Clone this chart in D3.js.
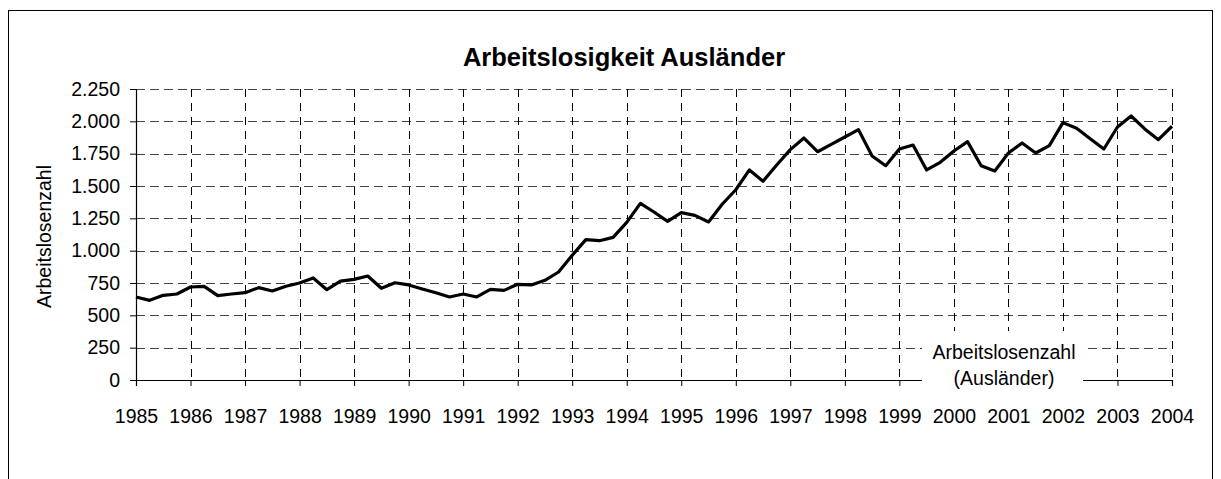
<!DOCTYPE html>
<html>
<head>
<meta charset="utf-8">
<script src="https://cdn.jsdelivr.net/npm/d3@7"></script>
<style>
  body { margin: 0; background: #fff; }
  svg { font-family: "Liberation Sans", Arial, sans-serif; }
</style>
</head>
<body>
<svg width="1221" height="479"></svg>
<script>
// Quarterly unemployment figures (foreigners), 1985 Q1 .. 2004 Q1
const firstYear = 1985;
const values = [
  642, 616, 655, 665, 719, 724, 652, 665, 675, 714, 688, 725,
  750, 789, 698, 765, 778, 804, 709, 752, 735, 704, 675, 642,
  665, 642, 701, 693, 740, 735, 771, 835, 964, 1085, 1077, 1103,
  1219, 1366, 1299, 1227, 1294, 1273, 1222, 1359, 1471, 1624, 1536, 1662,
  1781, 1871, 1765, 1822, 1879, 1936, 1732, 1657, 1786, 1817, 1624, 1683,
  1771, 1843, 1657, 1616, 1755, 1833, 1755, 1812, 1990, 1946, 1866, 1786,
  1956, 2041, 1941, 1858, 1962
];
const yearTicks = d3.range(1985, 2005);
const valueTicks = [0, 250, 500, 750, 1000, 1250, 1500, 1750, 2000, 2250];

const title = "Arbeitslosigkeit Ausländer";
const yTitle = "Arbeitslosenzahl";
const legendLines = ["Arbeitslosenzahl", "(Ausländer)"];

const de = d3.formatLocale({decimal: ",", thousands: ".", grouping: [3], currency: ["", " €"]});
const fmt = de.format(",d");

const svg = d3.select("svg");
const margin = {top: 89, right: 49, bottom: 99, left: 136};
const width = 1221, height = 479;
const labelSize = "19.5px";

const x = d3.scaleLinear()
    .domain([1985, 2004])
    .range([margin.left, width - margin.right]);

const y = d3.scaleLinear()
    .domain([0, 2250])
    .range([height - margin.bottom, margin.top]);

// outer frame
svg.append("rect")
    .attr("x", 8.5).attr("y", 10.5)
    .attr("width", 1204).attr("height", 520)
    .attr("fill", "#fff").attr("stroke", "#000").attr("stroke-width", 1);

// title
svg.append("text")
    .attr("x", 624).attr("y", 66)
    .attr("text-anchor", "middle")
    .attr("font-size", "25.5px").attr("font-weight", "bold")
    .text(title);

// horizontal grid
svg.append("g")
    .selectAll("line")
    .data(valueTicks.filter(d => d > 0))
    .join("line")
    .attr("x1", margin.left).attr("x2", width - margin.right)
    .attr("y1", d => Math.round(y(d)) + 0.5).attr("y2", d => Math.round(y(d)) + 0.5)
    .attr("stroke", "#444").attr("stroke-width", 1)
    .attr("stroke-dasharray", "9,5");

// vertical grid
svg.append("g")
    .selectAll("line")
    .data(yearTicks.slice(1))
    .join("line")
    .attr("x1", d => Math.round(x(d)) + 0.5).attr("x2", d => Math.round(x(d)) + 0.5)
    .attr("y1", margin.top).attr("y2", height - margin.bottom)
    .attr("stroke", "#000").attr("stroke-width", 1)
    .attr("stroke-dasharray", "8,6");

// axes
const xAxis = svg.append("g")
    .attr("transform", `translate(0,${height - margin.bottom})`)
    .call(d3.axisBottom(x).tickValues(yearTicks).tickFormat(d3.format("d")).tickSize(6).tickPadding(23));

const yAxis = svg.append("g")
    .attr("transform", `translate(${margin.left},0)`)
    .call(d3.axisLeft(y).tickValues(valueTicks).tickFormat(fmt).tickSize(6).tickPadding(10));

[xAxis, yAxis].forEach(g => {
    g.selectAll("text").attr("font-size", labelSize).attr("font-family", "Liberation Sans, Arial, sans-serif").attr("fill", "#000");
    g.selectAll("line").attr("stroke", "#000");
    g.select(".domain").attr("stroke", "#000").attr("stroke-width", 1.2);
});

// y axis title
svg.append("text")
    .attr("transform", `translate(51,${(margin.top + height - margin.bottom) / 2 + 2}) rotate(-90)`)
    .attr("text-anchor", "middle")
    .attr("font-size", labelSize)
    .text(yTitle);

// series line
const line = d3.line()
    .x((d, i) => x(firstYear + i / 4))
    .y(d => y(d));

svg.append("path")
    .datum(values)
    .attr("fill", "none")
    .attr("stroke", "#000")
    .attr("stroke-width", 3.2)
    .attr("stroke-linejoin", "round")
    .attr("d", line);

// legend
const legend = svg.append("g");
legend.append("rect")
    .attr("x", 922).attr("y", 331)
    .attr("width", 161).attr("height", 64)
    .attr("fill", "#fff");
legend.selectAll("text")
    .data(legendLines)
    .join("text")
    .attr("x", 1004)
    .attr("y", (d, i) => 359 + i * 26)
    .attr("text-anchor", "middle")
    .attr("font-size", labelSize)
    .text(d => d);
</script>
</body>
</html>
